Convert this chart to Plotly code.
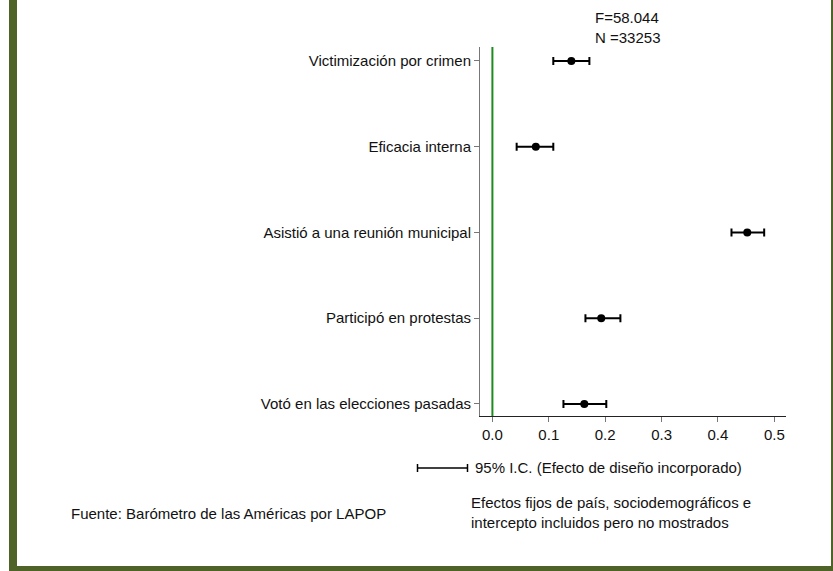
import plotly.graph_objects as go

categories = ["Votó en las elecciones pasadas", "Participó en protestas",
              "Asistió a una reunión municipal", "Eficacia interna",
              "Victimización por crimen"]
estimates = [0.163, 0.193, 0.452, 0.077, 0.140]
ci_low = [0.126, 0.165, 0.424, 0.043, 0.108]
ci_high = [0.202, 0.227, 0.482, 0.108, 0.172]
x_ticks = [0.0, 0.1, 0.2, 0.3, 0.4, 0.5]

W, H = 833, 571
L, R, T, B = 480, 47, 47, 155
PW, PH = W - L - R, H - T - B

def px(x):
    return (x - L) / PW

def py(y):
    return (H - B - y) / PH

FONT = "Liberation Sans, Arial, sans-serif"
OLIVE = "#4f6228"

fig = go.Figure()
fig.add_trace(go.Scatter(
    x=estimates, y=list(range(len(categories))), mode="markers",
    marker=dict(color="black", size=8),
    error_x=dict(type="data", symmetric=False,
                 array=[h - e for h, e in zip(ci_high, estimates)],
                 arrayminus=[e - l for e, l in zip(estimates, ci_low)],
                 color="black", thickness=2, width=4),
    showlegend=False, hoverinfo="skip"))

shapes = [
    dict(type="line", xref="x", yref="paper", x0=0, x1=0, y0=0, y1=1,
         line=dict(color="#1f8a1f", width=2), layer="below"),
    # legend-like CI icon
    dict(type="line", xref="paper", yref="paper", x0=px(417), x1=px(468), y0=py(468), y1=py(468),
         line=dict(color="black", width=1.5)),
    dict(type="line", xref="paper", yref="paper", x0=px(417.5), x1=px(417.5), y0=py(464), y1=py(472),
         line=dict(color="black", width=1.5)),
    dict(type="line", xref="paper", yref="paper", x0=px(467.5), x1=px(467.5), y0=py(464), y1=py(472),
         line=dict(color="black", width=1.5)),
    # frame
    dict(type="rect", xref="paper", yref="paper", x0=px(9), x1=px(17), y0=py(0), y1=py(571),
         fillcolor=OLIVE, line=dict(width=0)),
    dict(type="rect", xref="paper", yref="paper", x0=px(9), x1=px(833), y0=py(566), y1=py(571),
         fillcolor=OLIVE, line=dict(width=0)),
    dict(type="rect", xref="paper", yref="paper", x0=px(831), x1=px(833), y0=py(0), y1=py(571),
         fillcolor=OLIVE, line=dict(width=0)),
]

def ann(text, x, y, xanchor="left", align="left"):
    return dict(text=text, xref="paper", yref="paper", x=px(x), y=py(y),
                xanchor=xanchor, yanchor="middle", showarrow=False, align=align,
                font=dict(family=FONT, size=15, color="#111"))

annotations = [
    ann("F=58.044", 627, 18, "center", "center"),
    ann("N =33253", 627, 38, "center", "center"),
    ann("95% I.C. (Efecto de diseño incorporado)", 473, 468),
    ann("Efectos fijos de país, sociodemográficos e<br>intercepto incluidos pero no mostrados", 469, 512),
    ann("Fuente: Barómetro de las Américas por LAPOP", 69, 513),
]

fig.update_layout(
    width=W, height=H, margin=dict(l=L, r=R, t=T, b=B),
    plot_bgcolor="white", paper_bgcolor="white",
    font=dict(family=FONT, size=15, color="#111"),
    shapes=shapes, annotations=annotations,
    xaxis=dict(range=[-0.022, 0.5207], tickvals=x_ticks,
               ticktext=[f"{v:.1f}" for v in x_ticks],
               showline=True, linecolor="#222", linewidth=1,
               ticks="outside", ticklen=5, tickcolor="#777",
               showgrid=False, zeroline=False, fixedrange=True,
               tickfont=dict(family=FONT, size=15, color="#111")),
    yaxis=dict(range=[-0.14, 4.163], tickvals=list(range(len(categories))),
               ticktext=categories,
               showline=True, linecolor="#777", linewidth=1,
               ticks="outside", ticklen=5, tickcolor="#777",
               showgrid=False, zeroline=False, fixedrange=True,
               tickfont=dict(family=FONT, size=15, color="#111")),
)

fig.write_html("out.html", config={"displayModeBar": False},
               post_script="document.body.style.margin='0px';document.body.style.overflow='hidden';")
